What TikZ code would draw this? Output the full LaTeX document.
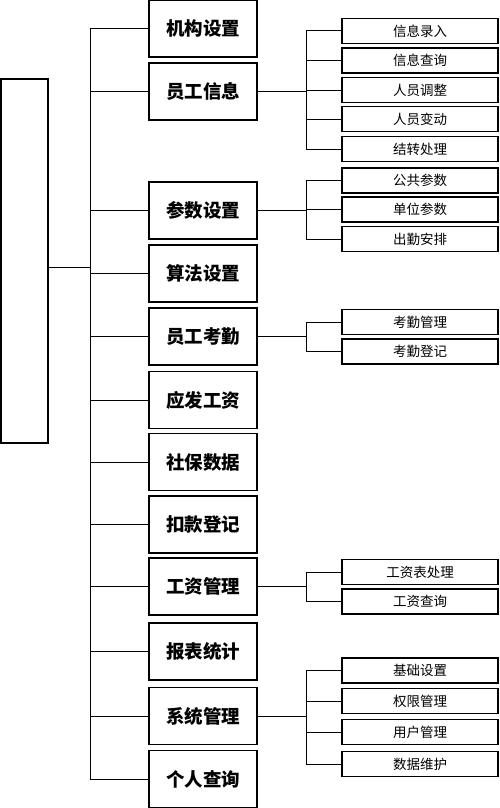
\documentclass[tikz,border=0pt]{standalone}
\usepackage{fontspec}
\setmainfont{Noto Sans CJK SC}
\usetikzlibrary{calc}

\begin{document}
\begin{tikzpicture}[x=1pt, y=-1pt,
	mainbox/.style={draw, line width=1.4pt, minimum width=108pt, minimum height=57pt, inner sep=0pt, font=\fontsize{18.5}{20}\selectfont\bfseries},
	subbox/.style={draw, line width=1.3pt, minimum width=156pt, minimum height=25pt, inner sep=0pt, font=\fontsize{13.5}{15}\selectfont},
	link/.style={line width=1pt}]
			%%%%% START %%%%%
			\useasboundingbox (0, 0) rectangle (499, 808);
			
			\node[draw, line width=1.4pt, minimum width=47pt, minimum height=364pt, inner sep=0pt] (root) at (24.5, 261) {};
			
			\coordinate (tx) at (90, 0);
			\coordinate (sx) at (306, 0);
			
			\node[mainbox] (jg) at (203, 28.5) {机构设置};
			\node[mainbox] (yg) at (203, 91.5) {员工信息};
			\node[mainbox] (cs) at (203, 210.5) {参数设置};
			\node[mainbox] (sf) at (203, 273.5) {算法设置};
			\node[mainbox] (kq) at (203, 336.5) {员工考勤};
			\node[mainbox] (yf) at (203, 400) {应发工资};
			\node[mainbox] (sb) at (203, 462) {社保数据};
			\node[mainbox] (kk) at (203, 524.5) {扣款登记};
			\node[mainbox] (gz) at (203, 586.5) {工资管理};
			\node[mainbox] (bb) at (203, 651.5) {报表统计};
			\node[mainbox] (xt) at (203, 716) {系统管理};
			\node[mainbox] (gr) at (203, 779) {个人查询};
			
			\node[subbox] (yg1) at (420, 31) {信息录入};
			\node[subbox] (yg2) at (420, 60.5) {信息查询};
			\node[subbox] (yg3) at (420, 90) {人员调整};
			\node[subbox] (yg4) at (420, 119) {人员变动};
			\node[subbox] (yg5) at (420, 149) {结转处理};
			
			\node[subbox] (cs1) at (420, 180.5) {公共参数};
			\node[subbox] (cs2) at (420, 209.5) {单位参数};
			\node[subbox] (cs3) at (420, 239) {出勤安排};
			
			\node[subbox] (kq1) at (420, 322) {考勤管理};
			\node[subbox] (kq2) at (420, 351.5) {考勤登记};
			
			\node[subbox] (gz1) at (420, 572) {工资表处理};
			\node[subbox] (gz2) at (420, 601.5) {工资查询};
			
			\node[subbox] (xt1) at (420, 670.5) {基础设置};
			\node[subbox] (xt2) at (420, 701) {权限管理};
			\node[subbox] (xt3) at (420, 732) {用户管理};
			\node[subbox] (xt4) at (420, 764) {数据维护};
			
			% main trunk
			\draw[link] ([yshift=-6]root.east) -- ([yshift=-6]root.east -| tx);
			\draw[link] (jg.west) -- (jg.west -| tx) -- (gr.west -| tx) -- (gr.west);
			\draw[link] (yg.west) -- (yg.west -| tx);
			\draw[link] (cs.west) -- (cs.west -| tx);
			\draw[link] (sf.west) -- (sf.west -| tx);
			\draw[link] (kq.west) -- (kq.west -| tx);
			\draw[link] (yf.west) -- (yf.west -| tx);
			\draw[link] (sb.west) -- (sb.west -| tx);
			\draw[link] (kk.west) -- (kk.west -| tx);
			\draw[link] (gz.west) -- (gz.west -| tx);
			\draw[link] (bb.west) -- (bb.west -| tx);
			\draw[link] (xt.west) -- (xt.west -| tx);
			
			% sub branches
			\draw[link] (yg.east) -- (yg.east -| sx);
			\draw[link] (yg1.west) -- (yg1.west -| sx) -- (yg5.west -| sx) -- (yg5.west);
			\draw[link] (yg2.west) -- (yg2.west -| sx);
			\draw[link] (yg3.west) -- (yg3.west -| sx);
			\draw[link] (yg4.west) -- (yg4.west -| sx);
			
			\draw[link] (cs.east) -- (cs.east -| sx);
			\draw[link] (cs1.west) -- (cs1.west -| sx) -- (cs3.west -| sx) -- (cs3.west);
			\draw[link] (cs2.west) -- (cs2.west -| sx);
			
			\draw[link] (kq.east) -- (kq.east -| sx);
			\draw[link] (kq1.west) -- (kq1.west -| sx) -- (kq2.west -| sx) -- (kq2.west);
			
			\draw[link] (gz.east) -- (gz.east -| sx);
			\draw[link] (gz1.west) -- (gz1.west -| sx) -- (gz2.west -| sx) -- (gz2.west);
			
			\draw[link] (xt.east) -- (xt.east -| sx);
			\draw[link] (xt1.west) -- (xt1.west -| sx) -- (xt4.west -| sx) -- (xt4.west);
			\draw[link] (xt2.west) -- (xt2.west -| sx);
			\draw[link] (xt3.west) -- (xt3.west -| sx);
			
			%%%%% END %%%%%
\end{tikzpicture}
\end{document}
